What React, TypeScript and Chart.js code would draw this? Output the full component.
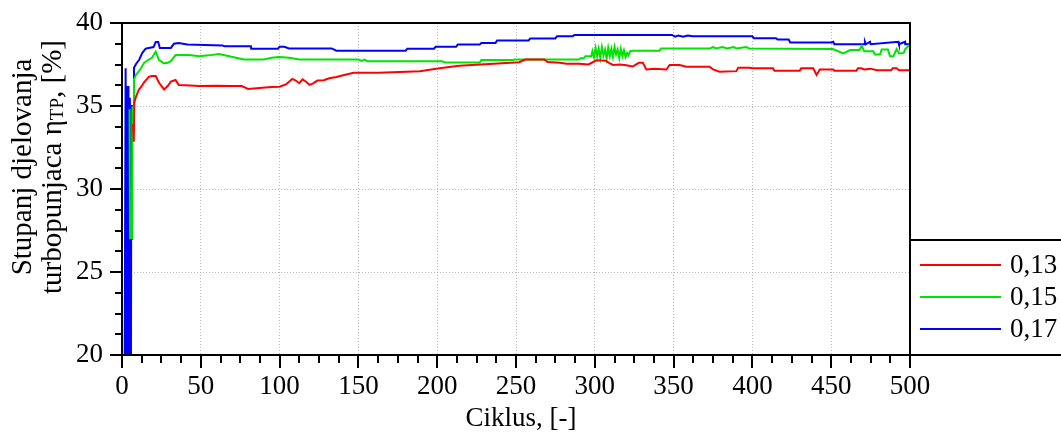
import React, { useEffect, useRef } from 'react';
import { Chart, registerables } from 'chart.js';

Chart.register(...registerables);

// ---------- data ----------
const seriesLabels = ['0,13', '0,15', '0,17'];
const seriesColors = ['rgb(255,0,0)', 'rgb(0,228,0)', 'rgb(0,0,255)'];

const redCycles = [7.0, 7.5, 7.8, 9, 10.8, 12.5, 14, 17, 19, 21.4, 23.5, 26.7, 29, 31, 34, 36, 40, 49, 60, 70, 76, 80, 89, 95, 100, 104, 106, 108, 110, 112.5, 114.6, 117, 119, 121, 124, 128, 131.5, 136, 141, 147, 163, 189, 201.5, 214, 233, 252, 256, 268, 270, 278, 282, 290, 296, 301, 307, 309, 311.5, 316, 320, 324, 328, 330.5, 332.7, 338, 345.4, 347.5, 353.8, 358, 372.9, 375, 379.2, 389.8, 391, 398.3, 400.4, 413, 414, 430, 431, 438.6, 440.7, 442.8, 451.3, 452, 466, 467, 469, 471, 475, 479, 488, 489, 491.5, 493, 500];
const redValues = [33.9, 32.85, 35.2, 35.6, 36.0, 36.2, 36.43, 36.76, 36.8, 36.8, 36.4, 36.0, 36.2, 36.47, 36.57, 36.27, 36.25, 36.2, 36.22, 36.2, 36.2, 36.03, 36.1, 36.14, 36.16, 36.3, 36.46, 36.63, 36.55, 36.37, 36.6, 36.45, 36.27, 36.35, 36.53, 36.55, 36.67, 36.75, 36.87, 37.0, 37.0, 37.1, 37.27, 37.43, 37.53, 37.64, 37.8, 37.8, 37.65, 37.6, 37.55, 37.55, 37.5, 37.75, 37.72, 37.6, 37.47, 37.5, 37.45, 37.38, 37.6, 37.6, 37.2, 37.25, 37.2, 37.47, 37.47, 37.37, 37.37, 37.2, 37.07, 37.1, 37.3, 37.3, 37.27, 37.27, 37.13, 37.13, 37.27, 37.27, 36.87, 37.2, 37.2, 37.13, 37.13, 37.27, 37.27, 37.2, 37.25, 37.15, 37.15, 37.27, 37.27, 37.15, 37.15];

const greenCycles = [4.8, 5.1, 6.3, 6.6, 7.3, 7.6, 9, 10.8, 12.5, 14, 17, 19, 21.4, 23.5, 26.7, 29, 31, 34, 42.6, 49, 55, 61.6, 68, 77.5, 90, 95, 99.7, 106, 112.5, 150, 152, 154, 155.6, 203, 205, 227, 228, 248, 249, 290, 291, 293, 294, 297.8, 298.5, 299.5, 300.5, 301.5, 302.5, 303.5, 304.5, 305.5, 306.5, 307.5, 308.5, 309.5, 310.5, 311.5, 312.5, 313.5, 314.5, 315.5, 316.5, 317.5, 318.5, 319.5, 320.5, 321.5, 322.5, 324, 341, 342, 373, 375, 377, 381, 384, 388, 390, 396, 398, 449, 451, 457.7, 462, 468, 469.3, 471, 476.7, 477.7, 481, 482, 486, 487.3, 489.5, 491.5, 493, 496, 497, 500];
const greenValues = [34.8, 27.05, 27.05, 34.9, 35.0, 36.6, 36.9, 37.1, 37.35, 37.6, 37.8, 37.9, 38.27, 37.77, 37.57, 37.6, 37.7, 38.07, 38.07, 38.0, 38.05, 38.13, 38.0, 37.8, 37.8, 37.9, 37.95, 37.9, 37.8, 37.8, 37.72, 37.8, 37.7, 37.7, 37.62, 37.62, 37.77, 37.77, 37.8, 37.8, 37.87, 37.87, 38.0, 38.0, 38.3, 37.95, 38.5, 38.0, 38.45, 37.9, 38.55, 38.05, 38.4, 37.85, 38.5, 38.0, 38.45, 37.95, 38.55, 38.1, 38.4, 37.9, 38.45, 38.0, 38.35, 37.95, 38.2, 38.05, 38.3, 38.33, 38.33, 38.47, 38.47, 38.55, 38.47, 38.55, 38.47, 38.55, 38.47, 38.55, 38.47, 38.43, 38.43, 38.17, 38.37, 38.37, 38.63, 38.3, 38.3, 38.1, 38.1, 38.4, 38.4, 38.0, 38.0, 38.43, 38.17, 38.2, 38.43, 38.7];

const blueCycles = [1, 2.3, 2.7, 3.2, 3.6, 4.1, 4.5, 5.0, 5.4, 5.8, 6.3, 7.3, 7.6, 9, 11, 12.9, 15, 17, 20, 21.4, 23, 24, 31, 33, 36, 41.5, 63.7, 65, 81.8, 82, 99, 100, 103, 106, 133, 136, 180, 181, 198, 199, 212, 213, 227, 228, 237, 238, 258, 259, 275, 276, 286, 287, 349, 351, 353, 356, 359, 362, 400, 401, 415, 416, 423, 424, 450, 451.3, 452, 471, 471.4, 472, 474.6, 475, 492.6, 493, 496.9, 497, 500];
const blueValues = [0, 37.27, 0, 36.2, 0, 36.2, 0, 35.5, 0, 27, 35.0, 35.0, 37.3, 37.55, 37.8, 38.2, 38.45, 38.5, 38.55, 38.85, 38.85, 38.5, 38.5, 38.75, 38.8, 38.7, 38.65, 38.6, 38.6, 38.45, 38.45, 38.57, 38.57, 38.47, 38.47, 38.33, 38.33, 38.45, 38.45, 38.57, 38.57, 38.7, 38.7, 38.8, 38.8, 38.95, 38.95, 39.07, 39.07, 39.2, 39.2, 39.28, 39.28, 39.18, 39.25, 39.18, 39.25, 39.2, 39.2, 39.08, 39.08, 39.0, 39.0, 38.83, 38.83, 38.87, 38.72, 38.72, 38.87, 38.72, 38.87, 38.72, 38.87, 38.72, 38.87, 38.72, 38.72];

const xMin = 0;
const xMax = 500;
const xStep = 50;
const xMinorStep = 12.5;
const yMin = 20;
const yMax = 40;
const yStep = 5;
const yMinorStep = 1.25;

const xTitle = 'Ciklus, [-]';
const yTitleLine1 = 'Stupanj djelovanja';
const yTitleLine2Main = 'turbopunjaca η';
const yTitleLine2Sub = 'TP';
const yTitleLine2Tail = ', [%]';

const FONT = '"Liberation Serif", "Times New Roman", serif';

const toPoints = (xs: number[], ys: number[]) => xs.map((x, i) => ({ x, y: ys[i] }));

const decorPlugin = {
  id: 'decor',
  afterDraw(chart: any) {
    const { ctx, chartArea: a, scales } = chart;
    const xs = scales.x;
    const ys = scales.y;
    const W = chart.width;
    ctx.save();
    ctx.strokeStyle = '#000';
    ctx.lineCap = 'butt';

    const line = (x1: number, y1: number, x2: number, y2: number) => {
      ctx.beginPath();
      ctx.moveTo(x1, y1);
      ctx.lineTo(x2, y2);
      ctx.stroke();
    };

    // tick marks
    ctx.lineWidth = 2;
    for (let v = xMin; v <= xMax + 1e-6; v += xMinorStep) {
      const px = Math.round(xs.getPixelForValue(v));
      const major = Math.abs(v % xStep) < 1e-6;
      line(px, a.bottom, px, a.bottom + (major ? 13 : 8));
    }
    for (let v = yMin; v <= yMax + 1e-6; v += yMinorStep) {
      const py = Math.round(ys.getPixelForValue(v));
      const major = Math.abs(v % yStep) < 1e-6;
      line(a.left, py, a.left - (major ? 12 : 7), py);
    }

    // frame
    ctx.lineWidth = 2;
    const L = Math.round(a.left), R = Math.round(a.right), T = Math.round(a.top), B = Math.round(a.bottom);
    line(L, T - 1, L, B + 13);
    line(L, T, R, T);
    line(R, T - 1, R, B + 6);
    line(L, B, W, B);

    // legend box
    const boxTop = 240;
    line(R, boxTop, W, boxTop);
    const rows = [265, 297, 329];
    ctx.font = `27px ${FONT}`;
    ctx.textBaseline = 'middle';
    ctx.textAlign = 'left';
    chart.data.datasets.forEach((ds: any, i: number) => {
      ctx.strokeStyle = ds.borderColor;
      ctx.lineWidth = 2;
      line(R + 10, rows[i], R + 91, rows[i]);
      ctx.fillStyle = '#000';
      ctx.fillText(ds.label, R + 100, rows[i] + 1);
    });

    // x title
    ctx.fillStyle = '#000';
    ctx.textAlign = 'center';
    ctx.textBaseline = 'middle';
    ctx.font = `27px ${FONT}`;
    ctx.fillText(xTitle, (a.left + a.right) / 2 + 5, 419);

    // y title (rotated, two lines)
    const cy = 167;
    ctx.save();
    ctx.translate(23, cy);
    ctx.rotate(-Math.PI / 2);
    ctx.font = `29px ${FONT}`;
    ctx.textAlign = 'center';
    ctx.fillText(yTitleLine1, 0, 0);
    ctx.restore();

    ctx.save();
    ctx.translate(53, cy);
    ctx.rotate(-Math.PI / 2);
    ctx.textAlign = 'left';
    const mainFont = `29px ${FONT}`;
    const subFont = `19px ${FONT}`;
    ctx.font = mainFont;
    const w1 = ctx.measureText(yTitleLine2Main).width;
    const w3 = ctx.measureText(yTitleLine2Tail).width;
    ctx.font = subFont;
    const w2 = ctx.measureText(yTitleLine2Sub).width;
    let x0 = -(w1 + w2 + w3) / 2;
    ctx.font = mainFont;
    ctx.fillText(yTitleLine2Main, x0, 0);
    x0 += w1;
    ctx.font = subFont;
    ctx.fillText(yTitleLine2Sub, x0, 5);
    x0 += w2;
    ctx.font = mainFont;
    ctx.fillText(yTitleLine2Tail, x0, 0);
    ctx.restore();

    ctx.restore();
  },
};

export default function App() {
  const canvasRef = useRef<HTMLCanvasElement | null>(null);

  useEffect(() => {
    const canvas = canvasRef.current;
    if (!canvas) return;
    const chart = new Chart(canvas, {
      type: 'line',
      data: {
        datasets: [
          { label: seriesLabels[0], data: toPoints(redCycles, redValues), borderColor: seriesColors[0] },
          { label: seriesLabels[1], data: toPoints(greenCycles, greenValues), borderColor: seriesColors[1] },
          { label: seriesLabels[2], data: toPoints(blueCycles, blueValues), borderColor: seriesColors[2] },
        ].map((d) => ({ ...d, borderWidth: 2, pointRadius: 0, tension: 0, fill: false, backgroundColor: d.borderColor })),
      },
      options: {
        responsive: false,
        animation: false,
        devicePixelRatio: 1,
        events: [],
        layout: { padding: { top: 23, right: 151, bottom: 0, left: 0 } },
        plugins: { legend: { display: false }, tooltip: { enabled: false }, title: { display: false } },
        scales: {
          x: {
            type: 'linear',
            min: xMin,
            max: xMax,
            afterFit: (s: any) => { s.height = 83; s.paddingLeft = 0; s.paddingRight = 0; },
            ticks: {
              stepSize: xStep,
              autoSkip: false,
              maxRotation: 0,
              color: '#000',
              padding: 16,
              font: { family: FONT, size: 27 },
              callback: (v: any) => String(v),
            },
            grid: { color: '#b8b8b8', lineWidth: 1, drawTicks: false },
            border: { display: false, dash: [1, 2] },
          },
          y: {
            type: 'linear',
            min: yMin,
            max: yMax,
            afterFit: (s: any) => { s.width = 122; s.paddingTop = 0; s.paddingBottom = 0; },
            ticks: {
              stepSize: yStep,
              color: '#000',
              padding: 19,
              font: { family: FONT, size: 27 },
              callback: (v: any) => String(v),
            },
            grid: { color: '#b8b8b8', lineWidth: 1, drawTicks: false },
            border: { display: false, dash: [1, 2] },
          },
        },
      },
      plugins: [decorPlugin],
    });
    return () => chart.destroy();
  }, []);

  return (
    <div style={{ position: 'fixed', left: 0, top: 0, width: 1061, height: 438, background: '#fff' }}>
      <canvas ref={canvasRef} width={1061} height={438} style={{ display: 'block' }} />
    </div>
  );
}
